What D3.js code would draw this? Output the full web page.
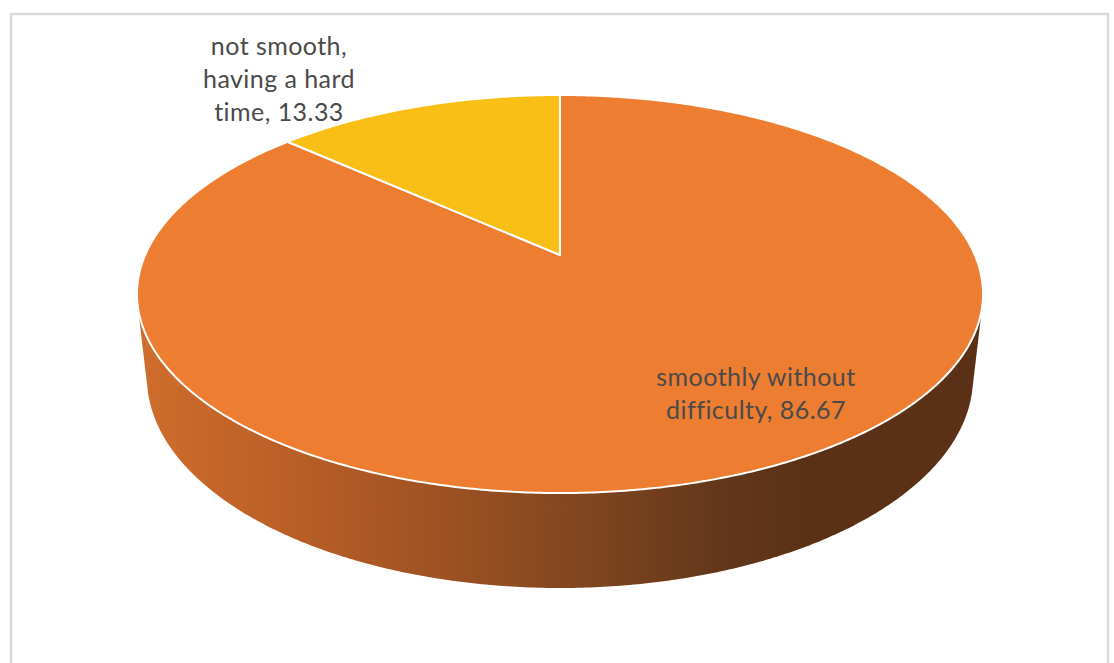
<!DOCTYPE html>
<html>
<head>
<meta charset="utf-8">
<script src="https://cdn.jsdelivr.net/npm/d3@7"></script>
<style>
  html, body { margin: 0; padding: 0; background: #ffffff; }
  svg { display: block; }
</style>
</head>
<body>
<svg id="chart" width="1114" height="663"></svg>
<script>
// ---- data ----
const categories = ["smoothly without difficulty", "not smooth, having a hard time"];
const values = [86.67, 13.33];
const labelLines = [["smoothly without", "difficulty, 86.67"], ["not smooth,", "having a hard", "time, 13.33"]];
const sliceColors = ["#ed7d31", "#f9bf16"];

// ---- layout ----
const W = 1114, H = 663;
const cx = 560, cy = 255;          // projected pie centre
const A = 414.8;                   // horizontal scale (f*R/L)
const sinPhi = 0.4614, cosPhi = Math.sqrt(1 - sinPhi * sinPhi);
const RL = 0.221;                  // R / camera distance
const depth = 0.2285;              // thickness relative to radius

const svg = d3.select("#chart");

// perspective projection of a point on the disk (u,v in unit-radius coords, z height)
function project(u, v, z) {
  const L = 1 / RL;
  const f = A * L;
  const d = L + v * cosPhi - z * sinPhi;
  const sx = u;
  const sy = v * sinPhi + z * cosPhi;
  return [cx + f * sx / d, cy - f * sy / d];
}
// angle theta clockwise from 12 o'clock (d3.pie convention)
function rim(theta, z) { return project(Math.sin(theta), Math.cos(theta), z); }

// border
svg.append("rect")
  .attr("x", 11).attr("y", 14).attr("width", 1097).attr("height", 700)
  .attr("fill", "none").attr("stroke", "#d9d9d9").attr("stroke-width", 2.5);

// side gradient
const defs = svg.append("defs");
const grad = defs.append("linearGradient")
  .attr("id", "sideGrad").attr("gradientUnits", "userSpaceOnUse")
  .attr("x1", 137).attr("y1", 0).attr("x2", 983).attr("y2", 0);
[[0, "#cf6d2c"], [0.22, "#b45c26"], [0.35, "#a05223"], [0.5, "#854820"], [0.7, "#62361a"], [0.8, "#5a3116"], [1, "#5a3116"]]
  .forEach(([o, c]) => grad.append("stop").attr("offset", o).attr("stop-color", c));

// side body: convex hull of top and bottom rims
const N = 720;
const pts = [];
for (let i = 0; i < N; i++) {
  const t = i / N * 2 * Math.PI;
  pts.push(rim(t, 0));
  pts.push(rim(t, -depth));
}
const hull = d3.polygonHull(pts);
svg.append("path")
  .attr("d", "M" + hull.map(p => p.join(",")).join("L") + "Z")
  .attr("fill", "url(#sideGrad)");

// top face slices
const pie = d3.pie().sort(null).value(d => d)(values);
const line = d3.line();
pie.forEach((s, i) => {
  const n = Math.max(8, Math.ceil((s.endAngle - s.startAngle) / (2 * Math.PI) * 720));
  const p = [[cx, cy]];
  for (let k = 0; k <= n; k++) {
    const t = s.startAngle + (s.endAngle - s.startAngle) * k / n;
    p.push(rim(t, 0));
  }
  svg.append("path")
    .attr("d", line(p) + "Z")
    .attr("fill", sliceColors[i])
    .attr("stroke", "#ffffff")
    .attr("stroke-width", 2)
    .attr("stroke-linejoin", "round");
});

// labels
const labelPos = [[756, 386], [279, 55]];
const lineH = 33;
labelLines.forEach((lines, i) => {
  const t = svg.append("text")
    .attr("x", labelPos[i][0]).attr("y", labelPos[i][1])
    .attr("text-anchor", "middle")
    .attr("font-family", "Lato, 'Open Sans', sans-serif")
    .attr("font-size", 25)
    .attr("letter-spacing", 0.45)
    .attr("fill", "#4a4a4a");
  lines.forEach((l, j) => {
    t.append("tspan").attr("x", labelPos[i][0]).attr("y", labelPos[i][1] + j * lineH).text(l);
  });
});
</script>
</body>
</html>
